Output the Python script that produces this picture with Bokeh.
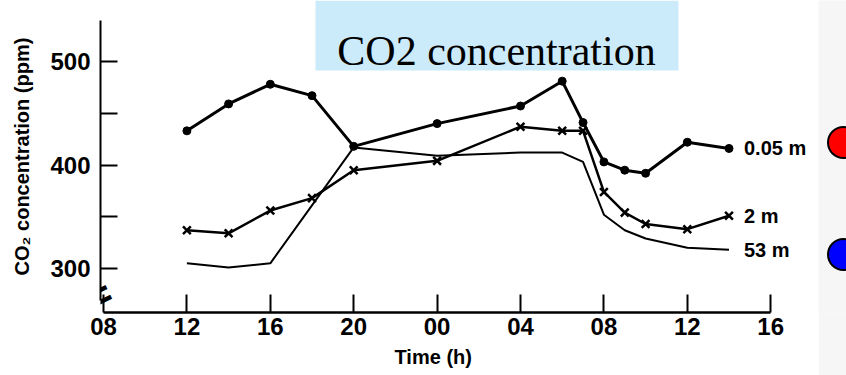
import math
from bokeh.plotting import figure
from bokeh.layouts import row
from bokeh.models import Range1d, FixedTicker, Label, BoxAnnotation, ColumnDataSource, Title
from bokeh.embed import file_html
from bokeh.resources import INLINE

# ---------------- data ----------------
tick_hours = [8, 12, 16, 20, 24, 28, 32, 36, 40]
tick_labels = ["08", "12", "16", "20", "00", "04", "08", "12", "16"]
y_ticks = [300, 400, 500]
y_minor_ticks = [350, 450]

series_names = ["0.05 m", "2 m", "53 m"]
x_005 = [12, 14, 16, 18, 20, 24, 28, 30, 31, 32, 33, 34, 36, 38]
y_005 = [433, 459, 478, 467, 418, 440, 457, 481, 441, 403, 395, 392, 422, 416]
x_2 = [12, 14, 16, 18, 20, 24, 28, 30, 31, 32, 33, 34, 36, 38]
y_2 = [337, 334, 356, 368, 395, 404, 437, 433, 433, 374, 354, 343, 338, 351]
x_53 = [12, 14, 16, 20, 24, 28, 30, 31, 32, 33, 34, 36, 38]
y_53 = [305, 301, 305, 417, 409, 412, 412, 403, 352, 337, 329, 320, 318]

title_text = "CO2 concentration"
x_label = "Time (h)"
y_label = "CO\u2082 concentration (ppm)"
dot_colors = ["#FF0000", "#0000FF"]

# ---------------- layout ----------------
W, H = 846, 375
PANEL_X = 818           # grey side panel starts here
FL, FR, FT, FB = 100, PANEL_X, 0, 312
PX_PER_H = 20.85
X0_PX = 103
PX_PER_PPM = 1.035
Y500_PX = 61
x_start = 8 - (X0_PX - FL) / PX_PER_H
x_end = x_start + (FR - FL) / PX_PER_H
y_end = 500 + (Y500_PX - FT) / PX_PER_PPM
y_start = y_end - (FB - FT) / PX_PER_PPM


def dx(px):
    return x_start + (px - FL) / PX_PER_H


def dy(py):
    return y_end - (py - FT) / PX_PER_PPM


FONT = "'Liberation Sans', Arial, sans-serif"

yr = Range1d(y_start, y_end)
p = figure(width=PANEL_X, height=H, x_range=Range1d(x_start, x_end), y_range=yr,
           output_backend="svg", toolbar_location=None,
           min_border_left=FL, min_border_right=PANEL_X - FR, min_border_top=FT, min_border_bottom=H - FB)
p.outline_line_color = None
p.grid.visible = False
p.background_fill_color = "white"
p.border_fill_color = "white"

# title box
p.add_layout(BoxAnnotation(left=dx(315), right=dx(678), top=dy(0), bottom=dy(70),
                           fill_color="#CCEBFA", fill_alpha=1, line_color=None, level="underlay"))

# axes
ya = p.yaxis[0]
ya.ticker = FixedTicker(ticks=y_ticks, minor_ticks=y_minor_ticks)
ya.bounds = (dy(300), dy(20))
ya.axis_line_width = 2
ya.major_tick_in = 17
ya.major_tick_out = 0
ya.minor_tick_in = 17
ya.minor_tick_out = 0
ya.major_tick_line_width = 2
ya.minor_tick_line_width = 2
ya.major_label_text_font = FONT
ya.major_label_text_font_style = "bold"
ya.major_label_text_font_size = "24px"
ya.major_label_standoff = 10
ya.major_label_text_color = "black"
ya.axis_label = y_label
ya.axis_label_text_font = FONT
ya.axis_label_text_font_style = "bold"
ya.axis_label_text_font_size = "20px"
ya.axis_label_text_color = "black"
ya.axis_label_standoff = 14

xa = p.xaxis[0]
xa.ticker = FixedTicker(ticks=tick_hours, minor_ticks=[])
xa.major_label_overrides = {h: l for h, l in zip(tick_hours, tick_labels)}
xa.bounds = (tick_hours[0], tick_hours[-1])
xa.axis_line_width = 2.5
xa.major_tick_in = 18
xa.major_tick_out = 0
xa.major_tick_line_width = 2
xa.major_label_text_font = FONT
xa.major_label_text_font_style = "bold"
xa.major_label_text_font_size = "24px"
xa.major_label_standoff = 5
xa.major_label_text_color = "black"

# x-axis title placed under the drawn part of the axis
label_start_px = 394
p.add_layout(Title(text=x_label, align="left", offset=label_start_px - FL, standoff=14,
                   vertical_align="middle",
                   text_font=FONT, text_font_style="bold", text_font_size="20px",
                   text_color="black"), "below")

# series
p.line(x_005, y_005, line_width=3, color="black")
p.scatter(x_005, y_005, marker="circle", size=8, color="black")
p.line(x_2, y_2, line_width=2.5, color="black")
p.scatter(x_2, y_2, marker="x", size=11, line_width=2.5, color="black")
p.line(x_53, y_53, line_width=2, color="black")

for xs, ys, name in zip([x_005, x_2, x_53], [y_005, y_2, y_53], series_names):
    p.add_layout(Label(x=xs[-1], y=ys[-1], x_offset=15, text=name, text_font=FONT,
                       text_font_style="bold", text_font_size="20px", text_baseline="middle",
                       text_color="black"))

# axis break mark
p.add_layout(Label(x=dx(99), y=dy(295), text="=", angle=0.45, text_align="center",
                   text_baseline="middle", text_font=FONT, text_font_style="bold",
                   text_font_size="40px", text_color="black"))

# title
p.add_layout(Label(x=dx(496), y=dy(50), text=title_text, text_align="center",
                   text_baseline="alphabetic", text_font="'Liberation Serif', 'Times New Roman', serif",
                   text_font_size="42px", text_color="black"))

# grey side panel with coloured dots (frame aligned with the main plot's frame)
SW = W - PANEL_X
q = figure(width=SW, height=H, x_range=Range1d(0, SW), y_range=yr,
           output_backend="svg", toolbar_location=None,
           min_border_left=0, min_border_right=0, min_border_top=FT, min_border_bottom=H - FB)
q.axis.visible = False
q.grid.visible = False
q.outline_line_color = None
q.background_fill_color = "#F6F6F6"
q.border_fill_color = "#F6F6F6"
dots = ColumnDataSource(dict(x=[843 - PANEL_X] * 2, y=[dy(142), dy(254)], c=dot_colors))
q.scatter("x", "y", source=dots, marker="circle", size=31, fill_color="c", line_color="black", line_width=2)

layout = row(p, q, spacing=0)
open("out.html", "w").write(file_html(layout, INLINE))
